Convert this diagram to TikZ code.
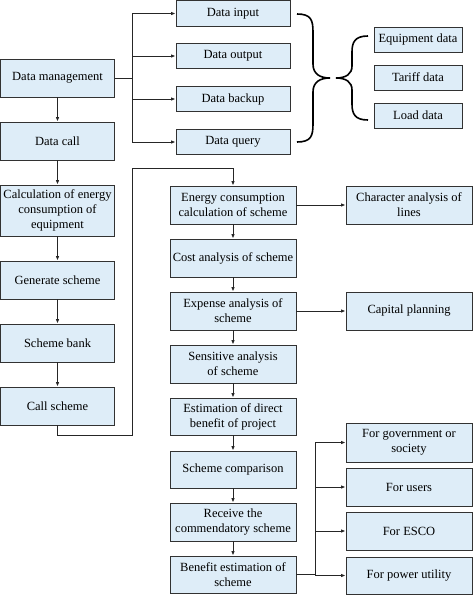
\documentclass[tikz,border=0pt]{standalone}
\usepackage{fontspec}
\setmainfont{Liberation Serif}
\usetikzlibrary{arrows.meta}
\definecolor{boxfill}{RGB}{222,237,248}
\definecolor{boxline}{RGB}{50,50,50}
\tikzset{
  bx/.style={draw=boxline, line width=0.8pt, fill=boxfill, align=center, inner sep=0pt,
    font=\fontsize{12.5}{15}\selectfont},
  lw/.style={bx, minimum width=114pt, minimum height=38pt},
  ds/.style={bx, minimum width=114pt, minimum height=25.5pt},
  dr/.style={bx, minimum width=88pt, minimum height=25pt},
  mw/.style={bx, minimum width=126pt, minimum height=38pt},
  arr/.style={draw=black!85, line width=0.9pt, -{Latex[length=4.5pt,width=3.5pt]}},
  ln/.style={draw=black!85, line width=0.9pt},
  brc/.style={draw=black, line width=1.6pt}
}
\begin{document}
\begin{tikzpicture}[x=1pt,y=1pt]
\useasboundingbox (0,0) rectangle (473,-595);
% left column
\node[lw] (dm) at (57.5,-78) {Data management};
\node[lw] (dc) at (57.5,-141) {Data call};
\node[lw, minimum height=51pt] (ce) at (57.5,-210.5) {Calculation of energy\\consumption of\\equipment};
\node[lw] (gs) at (57.5,-280) {Generate scheme};
\node[lw] (sb) at (57.5,-343) {Scheme bank};
\node[lw] (cs) at (57.5,-406) {Call scheme};
% data sub-boxes
\node[ds] (di) at (233,-13.5) {Data input};
\node[ds] (do) at (233,-56) {Data output};
\node[ds] (db) at (233,-99) {Data backup};
\node[ds] (dq) at (233,-142) {Data query};
% data types
\node[dr] (eq) at (418,-39.5) {Equipment data};
\node[dr] (td) at (418,-77.5) {Tariff data};
\node[dr] (ld) at (418,-115.5) {Load data};
% middle column
\node[mw] (ec) at (233,-205) {Energy consumption\\calculation of scheme};
\node[mw] (ca) at (233,-258) {Cost analysis of scheme};
\node[mw] (ea) at (233,-311) {Expense analysis of\\scheme};
\node[mw] (sa) at (233,-364) {Sensitive analysis\\of scheme};
\node[mw, minimum height=37pt] (ed) at (233,-416.5) {Estimation of direct\\benefit of project};
\node[mw, minimum height=37pt] (sc) at (233,-469.5) {Scheme comparison};
\node[mw] (rc) at (233,-522) {Receive the\\commendatory scheme};
\node[mw, minimum height=37pt] (be) at (233,-574.5) {Benefit estimation of\\scheme};
% right column
\node[mw] (ch) at (409,-205) {Character analysis of\\lines};
\node[mw] (cp) at (409,-311) {Capital planning};
\node[mw, minimum height=39pt] (fg) at (409,-442.5) {For government or\\society};
\node[mw] (fu) at (409,-487) {For users};
\node[mw] (fe) at (409,-531) {For ESCO};
\node[mw, minimum height=37pt] (fp) at (409,-575.5) {For power utility};
% data management branches
\coordinate (b1) at (132,-78);
\draw[ln] (dm.east) -- (b1);
\draw[arr] (b1) |- (di.west);
\draw[arr] (b1) |- (do.west);
\draw[arr] (b1) |- (db.west);
\draw[arr] (b1) |- (dq.west);
% left column arrows
\draw[arr] (dm) -- (dc);
\draw[arr] (dc) -- (ce);
\draw[arr] (ce) -- (gs);
\draw[arr] (gs) -- (sb);
\draw[arr] (sb) -- (cs);
% call scheme to energy consumption
\coordinate (c1) at (132,-435);
\coordinate (c2) at (132,-168);
\draw[arr] (cs.south) |- (c1) -- (c2) -| (ec.north);
% middle column arrows
\draw[arr] (ec) -- (ca);
\draw[arr] (ca) -- (ea);
\draw[arr] (ea) -- (sa);
\draw[arr] (sa) -- (ed);
\draw[arr] (ed) -- (sc);
\draw[arr] (sc) -- (rc);
\draw[arr] (rc) -- (be);
\draw[arr] (ec) -- (ch);
\draw[arr] (ea) -- (cp);
% benefit branches
\coordinate (b2) at (315,-574.5);
\draw[ln] (be.east) -- (b2);
\draw[arr] (b2) |- (fg.west);
\draw[arr] (b2) |- (fu.west);
\draw[arr] (b2) |- (fe.west);
\draw[arr] (b2) |- (fp.west);
% braces
\draw[brc] (297,-14) .. controls (311,-14) and (313,-20) .. (313,-32) -- (313,-64)
  .. controls (313,-74) and (320,-78) .. (330,-78)
  .. controls (320,-78) and (313,-82) .. (313,-92) -- (313,-124)
  .. controls (313,-136) and (311,-142) .. (297,-142);
\draw[brc] (368,-36) .. controls (355,-36) and (352,-42) .. (352,-52) -- (352,-66)
  .. controls (352,-74) and (346,-78) .. (336,-78)
  .. controls (346,-78) and (352,-82) .. (352,-90) -- (352,-104)
  .. controls (352,-114) and (355,-120) .. (368,-120);
\end{tikzpicture}
\end{document}
